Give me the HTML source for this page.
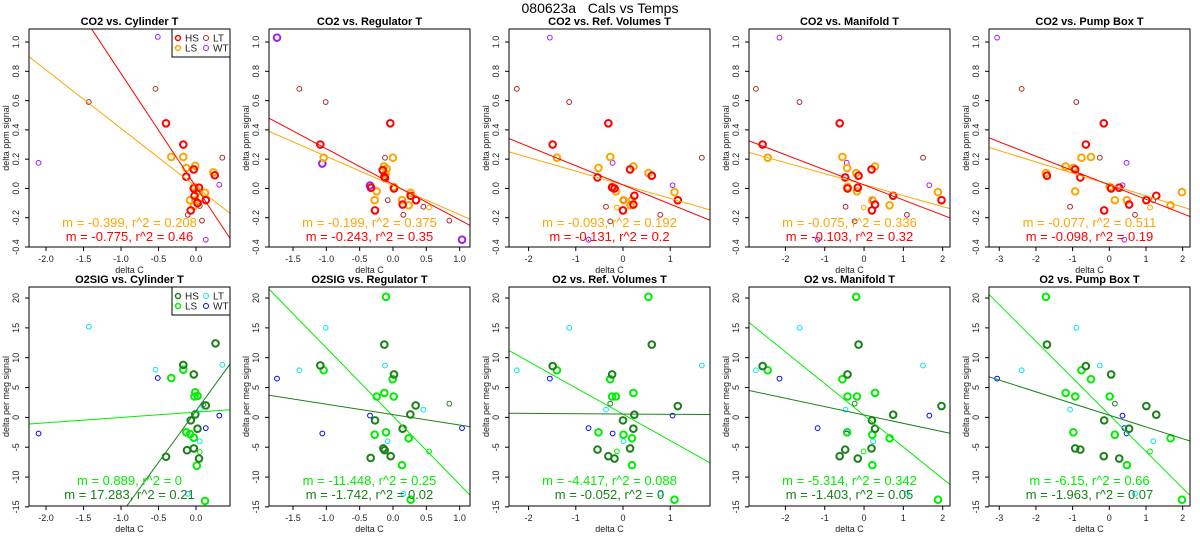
<!DOCTYPE html>
<html><head><meta charset="utf-8"><style>
html,body{margin:0;padding:0;background:#fff;width:1200px;height:550px;overflow:hidden;}
svg{display:block;font-family:"Liberation Sans",sans-serif;}
</style></head><body>
<svg id="chart" width="1200" height="550" viewBox="0 0 1200 550" xmlns="http://www.w3.org/2000/svg">
<rect x="0" y="0" width="1200" height="550" fill="#fff"/>
<text x="600" y="13" text-anchor="middle" font-size="14">080623a&#160;&#160;&#160;Cals vs Temps</text>
</svg>
<script>
const topTitles=["CO2 vs. Cylinder T","CO2 vs. Regulator T","CO2 vs. Ref. Volumes T","CO2 vs. Manifold T","CO2 vs. Pump Box T"];
const botTitles=["O2SIG vs. Cylinder T","O2SIG vs. Regulator T","O2 vs. Ref. Volumes T","O2 vs. Manifold T","O2 vs. Pump Box T"];
const xMins=[-2.227,-1.86,-2.415,-2.926,-3.28];
const xMaxs=[0.453,1.155,1.843,2.186,2.2];
const xTicks=[[-2,-1.5,-1,-0.5,0],[-1.5,-1,-0.5,0,0.5,1],[-2,-1,0,1],[-2,-1,0,1,2],[-3,-2,-1,0,1,2]];
const xTickDec=[1,1,0,0,0];
const topYTicks=[-0.4,-0.2,0,0.2,0.4,0.6,0.8,1.0];
const botYTicks=[-15,-10,-5,0,5,10,15,20];
const topHS=[
[[-0.4,0.445],[-0.17,0.3],[-0.13,0.08],[-0.03,0.13],[-0.03,0],[0.04,0.005],[-0.02,-0.05],[0.13,-0.08],[0.25,0.09],[-0.07,-0.15],[0.02,-0.1]],
[[-1.09,0.3],[-0.04,0.445],[-0.13,0.08],[-0.155,0.125],[-0.33,0.005],[0.015,0],[-0.27,-0.15],[0.145,-0.11],[0.265,-0.05],[0.345,-0.08],[-0.12,0.07]],
[[-0.31,0.445],[-1.49,0.3],[-0.54,0.075],[0.15,0.13],[-0.18,0],[-0.23,0.007],[0.61,0.087],[0.24,-0.05],[0.22,-0.11],[1.16,-0.08],[0,-0.15]],
[[-0.62,0.445],[-2.58,0.3],[-0.48,0.075],[-0.14,0.087],[0.19,0.13],[-0.16,0.005],[-0.42,0],[0.74,-0.05],[0.28,-0.11],[1.97,-0.08],[0.2,-0.15]],
[[-0.15,0.445],[-0.64,0.3],[-1.7,0.087],[-0.93,0.13],[-0.79,0.075],[0.05,0],[0.27,0.005],[1.28,-0.05],[0.54,-0.11],[1.01,-0.08],[-0.14,-0.15]]];
const topLS=[
[[-0.33,0.215],[-0.17,0.215],[-0.13,0.14],[-0.01,0.155],[-0.02,0.01],[0.23,0.11],[0.02,-0.02],[0.12,-0.03],[-0.08,-0.08],[-0.01,-0.08],[-0.03,-0.12]],
[[-1.04,0.21],[0,0.21],[-0.135,0.15],[-0.095,0.135],[-0.11,0.1],[0.01,0.01],[-0.245,-0.02],[-0.275,-0.08],[0.135,-0.08],[0.265,-0.03],[0.235,-0.115]],
[[-1.4,0.21],[-0.27,0.215],[-0.52,0.14],[0.22,0.15],[0.54,0.105],[-0.23,0.01],[-0.15,-0.02],[1.09,-0.025],[0.01,-0.08],[0.19,-0.08],[0.16,-0.115]],
[[-2.45,0.21],[-0.55,0.215],[-0.43,0.14],[0.28,0.15],[-0.2,0.105],[-0.42,0.01],[-0.18,-0.02],[1.88,-0.025],[0.21,-0.08],[0.65,-0.115],[-0.42,0]],
[[-1.73,0.105],[-1.19,0.15],[-0.98,0.14],[-0.76,0.21],[-0.5,0.215],[0.01,0.01],[-0.93,-0.02],[0.15,-0.08],[0.48,-0.08],[1.67,-0.115],[1.98,-0.025]]];
const topLT=[
[[-1.43,0.59],[-0.54,0.68],[0.35,0.21],[-0.11,-0.18],[0.08,-0.22],[0.05,-0.12]],
[[-1.405,0.68],[-1.01,0.59],[-0.12,0.21],[-0.08,-0.08],[0.155,-0.18],[0.455,-0.125],[0.845,-0.22]],
[[-2.25,0.68],[-1.14,0.59],[1.67,0.21],[-0.36,-0.125],[-0.27,-0.225],[0.79,-0.18],[0.01,-0.08]],
[[-2.75,0.68],[-1.64,0.59],[1.5,0.21],[-0.47,-0.125],[-0.24,-0.225],[1.09,-0.18],[0.23,-0.08]],
[[-2.39,0.68],[-0.9,0.59],[-0.26,0.21],[-1.07,-0.125],[0.7,-0.18],[1.2,-0.08]]];
const topWT=[
[[-0.51,1.035],[-2.1,0.175],[0.31,0.025],[0.13,-0.35]],
[[-1.74,1.03],[-1.06,0.17],[-0.345,0.02],[1.035,-0.35]],
[[-1.55,1.03],[-0.22,0.175],[1.05,0.022],[-0.73,-0.35]],
[[-2.15,1.03],[-0.44,0.175],[1.66,0.022],[-1.18,-0.35]],
[[-3.06,1.03],[0.47,0.175],[0.36,0.022],[0.41,-0.35]]];
const topWTthick=[false,true,false,false,false];
const topLSthin=[[],[[0.54,-0.13]],[[-0.13,-0.13]],[[-0.01,-0.13]],[[1.11,-0.13]]];
const botHS=[
[[-0.4,-6.6],[-0.17,8.8],[-0.12,-5.5],[-0.03,7.2],[-0.03,-5.2],[0.04,-6.9],[0.02,-1.9],[-0.07,-0.5],[0.13,2.0],[0.26,12.4],[-0.01,0.5]],
[[-1.09,8.7],[-0.13,12.2],[0.015,7.2],[0.34,2.0],[0.26,0.5],[-0.27,-0.5],[0.145,-1.9],[-0.145,-5.2],[-0.125,-5.5],[-0.335,-6.8],[-0.035,-6.5]],
[[-1.49,8.6],[0.61,12.2],[-0.23,7.2],[1.16,1.9],[0.24,0.45],[0,-0.5],[0.22,-1.9],[-0.54,-5.4],[0.15,-5.2],[-0.31,-6.5],[-0.18,-6.9]],
[[-2.58,8.6],[-0.14,12.2],[-0.42,7.2],[1.97,1.9],[0.74,0.45],[0.2,-0.5],[0.28,-1.9],[-0.48,-5.4],[0.19,-5.2],[-0.62,-6.5],[-0.16,-6.9]],
[[-0.64,8.6],[-1.7,12.2],[0.05,7.2],[1.01,1.9],[1.28,0.45],[-0.14,-0.5],[0.54,-1.9],[-0.79,-5.4],[-0.93,-5.2],[-0.15,-6.5],[0.27,-6.9]]];
const botLS=[
[[-0.33,6.6],[-0.17,8.0],[-0.13,-2.5],[-0.01,4.2],[-0.02,3.5],[0.02,3.6],[-0.08,-2.8],[-0.03,-3.4],[0.01,-8.1],[0.12,-14]],
[[-0.105,20.2],[-1.04,7.9],[-0.005,6.4],[-0.13,4.1],[-0.245,3.5],[0.01,3.5],[-0.275,-2.9],[-0.105,-2.5],[0.235,-3.5],[0.135,-8.0],[0.265,-13.8]],
[[0.54,20.2],[-1.4,7.9],[-0.27,6.4],[0.22,4.1],[-0.23,3.5],[-0.15,3.5],[-0.52,-2.5],[0.01,-2.9],[0.19,-3.5],[0.19,-8.0],[1.09,-13.8]],
[[-0.2,20.2],[-2.45,7.9],[-0.55,6.4],[0.28,4.1],[-0.42,3.5],[-0.18,3.5],[-0.43,-2.5],[0.21,-2.9],[0.65,-3.5],[0.21,-8.0],[1.88,-13.8]],
[[-1.73,20.2],[-0.76,7.9],[-0.5,6.4],[-1.19,4.1],[-0.93,3.5],[0.01,3.5],[-0.98,-2.5],[0.15,-2.9],[1.67,-3.5],[0.48,-8.0],[1.98,-13.8]]];
const botLT=[
[[-1.43,15.2],[-0.54,8.0],[0.35,8.8],[0.05,1.4],[-0.11,-12.8],[0.05,-4]],
[[-1.01,15.0],[-1.405,7.9],[-0.12,8.7],[0.455,1.3],[-0.08,-4.0],[0.155,-12.8]],
[[-1.14,15.0],[-2.25,7.9],[1.67,8.7],[-0.36,1.3],[0.01,-4.0],[0.79,-12.8]],
[[-1.64,15.0],[-2.75,7.9],[1.5,8.7],[-0.47,1.3],[0.23,-4.0],[1.09,-12.8]],
[[-0.9,15.0],[-2.39,7.9],[-0.26,8.7],[-1.07,1.3],[1.2,-4.0],[0.7,-12.8]]];
const botWT=[
[[-0.51,6.6],[-2.1,-2.7],[0.31,0.3],[0.13,-1.8]],
[[-1.74,6.5],[-1.06,-2.7],[-0.345,0.3],[1.035,-1.8]],
[[-1.55,6.5],[-0.73,-1.8],[-0.22,-2.7],[1.05,0.3]],
[[-2.15,6.5],[-1.18,-1.8],[-0.44,-2.7],[1.66,0.3]],
[[-3.06,6.5],[0.36,0.3],[0.41,-1.8],[0.47,-2.7]]];
const botLSthin=[[[0.05,-5.8]],[[0.54,-5.7]],[[-0.13,-5.7]],[[-0.01,-5.7]],[[1.11,-5.7]]];
const botHSthin=[[[0.1,2.2]],[[0.845,2.3]],[[-0.27,2.3]],[[-0.24,2.3]],[[0.15,2.3]]];
const topHSslope=[-0.775,-0.243,-0.131,-0.103,-0.098];
const topHSint=[0.01,0.028,0.024,0.024,0.024];
const topLSslope=[-0.399,-0.199,-0.093,-0.075,-0.077];
const topLSint=[0.011,0.02,0.025,0.026,0.027];
const botHSslope=[17.283,-1.742,-0.052,-1.403,-1.963];
const botHSint=[1.1,0.46,0.57,0.4,0.36];
const botLSslope=[0.889,-11.448,-4.417,-5.314,-6.15];
const botLSint=[0.88,0.2,0.53,0.35,0.43];
const topLSlabel=["m = -0.399, r^2 = 0.208","m = -0.199, r^2 = 0.375","m = -0.093, r^2 = 0.192","m = -0.075, r^2 = 0.336","m = -0.077, r^2 = 0.511"];
const topHSlabel=["m = -0.775, r^2 = 0.46","m = -0.243, r^2 = 0.35","m = -0.131, r^2 = 0.2","m = -0.103, r^2 = 0.32","m = -0.098, r^2 = 0.19"];
const botLSlabel=["m = 0.889, r^2 = 0","m = -11.448, r^2 = 0.25","m = -4.417, r^2 = 0.088","m = -5.314, r^2 = 0.342","m = -6.15, r^2 = 0.66"];
const botHSlabel=["m = 17.283, r^2 = 0.21","m = -1.742, r^2 = 0.02","m = -0.052, r^2 = 0","m = -1.403, r^2 = 0.05","m = -1.963, r^2 = 0.07"];

const NS="http://www.w3.org/2000/svg";
const svg=document.getElementById('chart');
function mk(tag,attrs,parent){const e=document.createElementNS(NS,tag);for(const k in attrs)e.setAttribute(k,attrs[k]);(parent||svg).appendChild(e);return e;}
const rows=[
 {top:29,bot:247,ymin:-0.4,ymax:1.089,yt:topYTicks,ylab:"delta ppm signal",titles:topTitles,
  cHS:"#ff0000",cLS:"#ffa500",cLT:"#a52a2a",cWT:"#a020f0",
  HS:topHS,LS:topLS,LT:topLT,WT:topWT,LSthin:topLSthin,HSthin:null,
  sH:topHSslope,iH:topHSint,sL:topLSslope,iL:topLSint,labL:topLSlabel,labH:topHSlabel,key:"co2",o1:20,o2:6},
 {top:287,bot:506,ymin:-14.85,ymax:21.85,yt:botYTicks,ylab:"delta per meg signal",titles:botTitles,
  cHS:"#1a801a",cLS:"#00ee00",cLT:"#00e5ee",cWT:"#0000ff",
  HS:botHS,LS:botLS,LT:botLT,WT:botWT,LSthin:botLSthin,HSthin:botHSthin,
  sH:botHSslope,iH:botHSint,sL:botLSslope,iL:botLSint,labL:botLSlabel,labH:botHSlabel,key:"o2",o1:21,o2:7}];

rows.forEach((R,ri)=>{
 for(let p=0;p<5;p++){
  const ox=240*p, L=ox+29, Rt=ox+230;
  const g=mk('g',{});
  
  
  const xs=v=>L+(v-xMins[p])/(xMaxs[p]-xMins[p])*(Rt-L);
  const ys=v=>R.bot-(v-R.ymin)/(R.ymax-R.ymin)*(R.bot-R.top);
  const cid='clip'+ri+'_'+p;
  const cp=mk('clipPath',{id:cid},g);
  mk('rect',{x:L,y:R.top,width:Rt-L,height:R.bot-R.top},cp);
  const t=mk('text',{x:(L+Rt)/2,y:R.top-4,'text-anchor':'middle','font-size':11,'font-weight':'bold'},g);
  t.textContent=R.titles[p];
  
  
  R.yt.forEach(v=>{
   const y=ys(v);
   mk('line',{x1:L-4,x2:L,y1:y,y2:y,stroke:'#000','stroke-width':1},g);
   const tx=mk('text',{x:0,y:0,'text-anchor':'middle','font-size':9,fill:'#222',transform:`translate(${ox+19},${y}) rotate(-90)`},g);
   tx.textContent=(R.key==='co2')?v.toFixed(1):String(v);
   
   
  });
  const yl=mk('text',{x:0,y:0,'text-anchor':'middle','font-size':9,fill:'#222',transform:`translate(${ox+9},${(R.top+R.bot)/2}) rotate(-90)`},g);
  yl.textContent=R.ylab;
  
  
  xTicks[p].forEach(v=>{
   const x=xs(v);
   mk('line',{x1:x,x2:x,y1:R.bot,y2:R.bot+4,stroke:'#000','stroke-width':1},g);
   const tx=mk('text',{x:x,y:R.bot+15,'text-anchor':'middle','font-size':9,fill:'#222'},g);
   tx.textContent=v.toFixed(xTickDec[p]);
   
   
  });
  const xl=mk('text',{x:(L+Rt)/2,y:R.bot+26,'text-anchor':'middle','font-size':9,fill:'#222'},g);
  xl.textContent='delta C';
  
  
  const cg=mk('g',{'clip-path':`url(#${cid})`},g);
  function pts(arr,color,thick,name){
   (arr||[]).forEach(d=>{
    const c=mk('circle',{cx:xs(d[0]),cy:ys(d[1]),r:thick?3.3:2.4,fill:'none',stroke:color,'stroke-width':thick?2:1},cg);
    
    
   });
  }
  pts(R.LT[p],R.cLT,false,'point-lt');
  pts(R.WT[p],R.cWT,ri===0?topWTthick[p]:false,'point-wt');
  pts(R.LSthin[p],R.cLS,false,'point-ls-thin');
  if(R.HSthin)pts(R.HSthin[p],R.cHS,false,'point-hs-thin');
  pts(R.LS[p],R.cLS,true,'point-ls');
  pts(R.HS[p],R.cHS,true,'point-hs');
  function rl(m,b,color,name){
   const x0=xMins[p],x1=xMaxs[p];
   const ln=mk('line',{x1:xs(x0),y1:ys(b+m*x0),x2:xs(x1),y2:ys(b+m*x1),stroke:color,'stroke-width':1},cg);
   
   
  }
  rl(R.sL[p],R.iL[p],R.cLS,'fit-line-ls');
  rl(R.sH[p],R.iH[p],R.cHS,'fit-line-hs');
  const l1=mk('text',{x:(L+Rt)/2,y:R.bot-R.o1,'text-anchor':'middle','font-size':13,fill:R.cLS},g);
  l1.textContent=R.labL[p];
  
  
  const l2=mk('text',{x:(L+Rt)/2,y:R.bot-R.o2,'text-anchor':'middle','font-size':13,fill:R.cHS},g);
  l2.textContent=R.labH[p];
  
  
  const bx=mk('rect',{x:L,y:R.top,width:Rt-L,height:R.bot-R.top,fill:'none',stroke:'#000','stroke-width':1},g);
  
  
  if(p===0){
   const lg=mk('g',{},g);
   
   
   mk('rect',{x:ox+172,y:R.top,width:58,height:28,fill:'#fff',stroke:'#000','stroke-width':1},lg);
   const ents=[['HS',R.cHS,true,0,0],['LS',R.cLS,true,0,1],['LT',R.cLT,false,1,0],['WT',R.cWT,false,1,1]];
   ents.forEach(e=>{
    const ex=ox+178+e[3]*28, ey=R.top+9+e[4]*10;
    const c=mk('circle',{cx:ex,cy:ey,r:2.5,fill:'none',stroke:e[1],'stroke-width':e[2]?1.5:1},lg);
    
    
    const tt=mk('text',{x:ex+7,y:ey+3.5,'font-size':10,fill:'#222'},lg);
    tt.textContent=e[0];
    
    
   });
  }
 }
});
</script>
</body></html>
